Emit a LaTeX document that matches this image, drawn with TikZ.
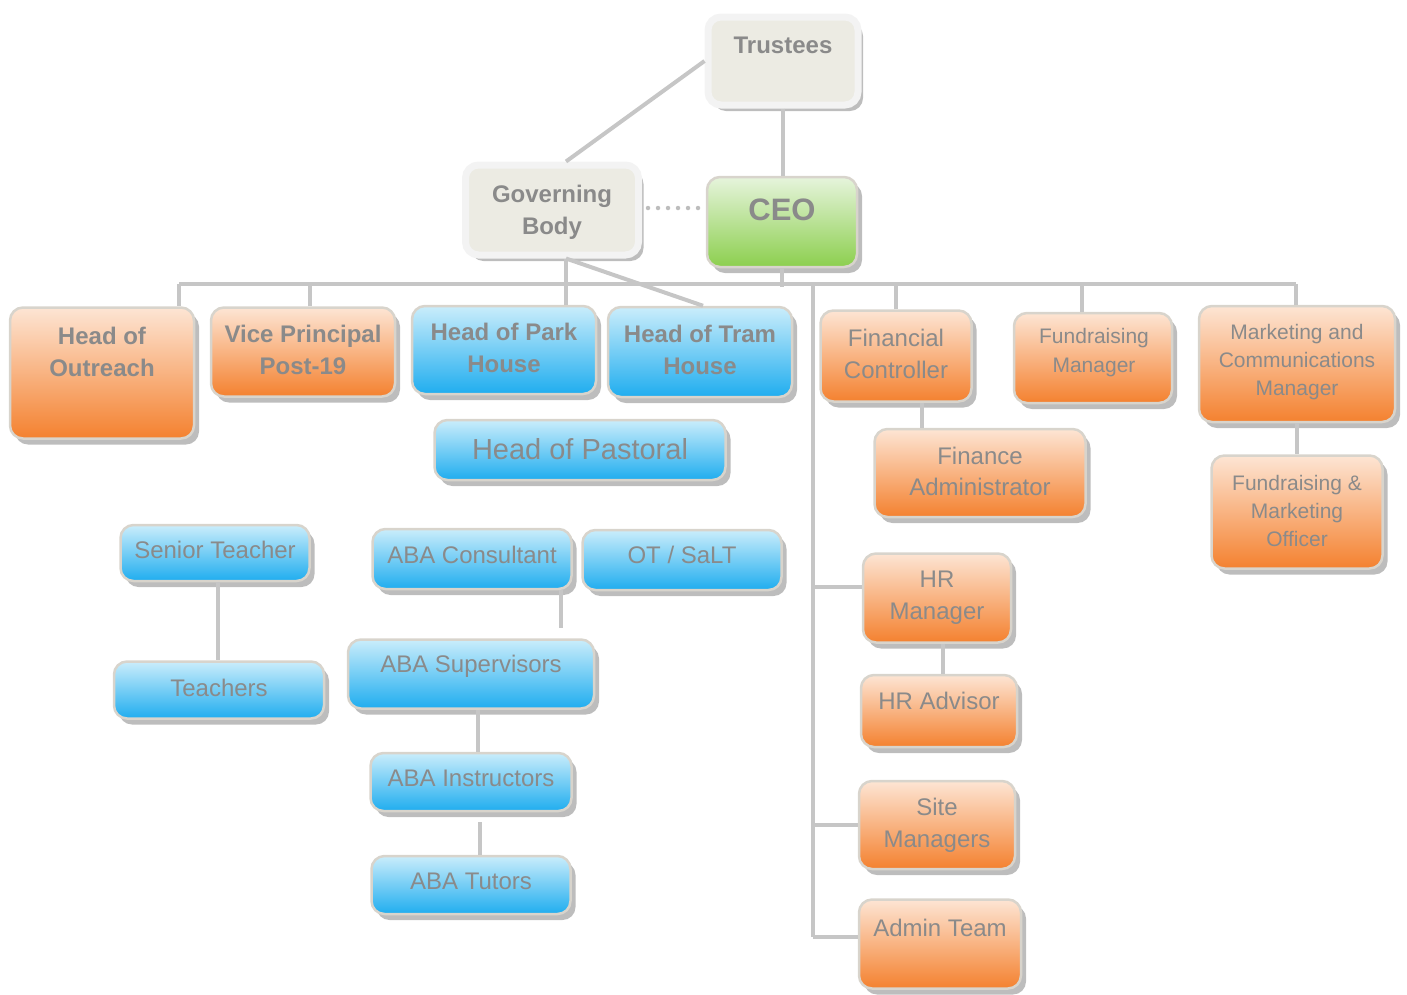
\documentclass[tikz,border=0pt]{standalone}
\usepackage{fontspec}
\setmainfont{Liberation Sans}
\usetikzlibrary{shadows}

\definecolor{txtc}{HTML}{8A8A8A}
\definecolor{linec}{HTML}{C6C6C6}
\definecolor{bordc}{HTML}{D8D4CC}
\definecolor{shadc}{HTML}{BDBDBD}
\definecolor{ortop}{HTML}{FDE5D4}
\definecolor{orbot}{HTML}{F4812F}
\definecolor{bltop}{HTML}{CAEDFB}
\definecolor{blbot}{HTML}{1FADEF}
\definecolor{grtop}{HTML}{E6F4DC}
\definecolor{grbot}{HTML}{8CCF4E}
\definecolor{beige}{HTML}{ECEBE3}
\definecolor{gbord}{HTML}{F3F3F3}

\begin{document}
\begin{tikzpicture}[x=1pt,y=-1pt,
  box/.style={rectangle,rounded corners=13pt,draw=bordc,line width=2.5pt,
    drop shadow={shadow xshift=5pt,shadow yshift=-6pt,fill=shadc,opacity=1}},
  obox/.style={box,top color=ortop,bottom color=orbot},
  bbox/.style={box,top color=bltop,bottom color=blbot},
  gbox/.style={box,top color=grtop,bottom color=grbot},
  tbox/.style={box,draw=gbord,line width=7pt,fill=beige},
  txt/.style={text=txtc,align=center,font=\fontsize{24}{32}\selectfont},
  stxt/.style={txt,font=\fontsize{21}{28}\selectfont},
  btxt/.style={txt,font=\bfseries\fontsize{24}{32}\selectfont}]
\useasboundingbox (0,0) rectangle (1407,994);

% top of the tree
\node[tbox,minimum width=150pt,minimum height=88pt] (trustees) at (783,61) {};
\node[btxt] (trustees-t) at (783,45) {Trustees};
\node[tbox,minimum width=173pt,minimum height=90pt] (gb) at (552,210) {};
\node[btxt] (gb-t) at (552,212) {Governing\\Body};
\node[gbox,minimum width=150pt,minimum height=90pt] (ceo) at (782,222) {};
\node[btxt,font=\bfseries\fontsize{31}{36}\selectfont] (ceo-t) at (782,210) {CEO};

% education side
\node[obox,minimum width=184pt,minimum height=131pt] (outreach) at (102,373) {};
\node[btxt] (outreach-t) at (102,352) {Head of\\Outreach};
\node[obox,minimum width=184pt,minimum height=89pt] (vp) at (303,352) {};
\node[btxt] (vp-t) at (303,350) {Vice Principal\\Post-19};
\node[bbox,minimum width=184pt,minimum height=88pt] (park) at (504,350) {};
\node[btxt] (park-t) at (504,348) {Head of Park\\House};
\node[bbox,minimum width=184pt,minimum height=90pt] (tram) at (700,352) {};
\node[btxt] (tram-t) at (700,350) {Head of Tram\\House};
\node[bbox,minimum width=291pt,minimum height=60pt] (pastoral) at (580,450) {};
\node[txt,font=\fontsize{29}{34}\selectfont] (pastoral-t) at (580,449) {Head of Pastoral};

\node[bbox,minimum width=189pt,minimum height=56pt] (st) at (215,553) {};
\node[txt] (st-t) at (215,550) {Senior Teacher};
\node[bbox,minimum width=210pt,minimum height=57pt] (tea) at (219,690) {};
\node[txt] (tea-t) at (219,688) {Teachers};

\node[bbox,minimum width=199pt,minimum height=60pt] (abac) at (472,559) {};
\node[txt] (abac-t) at (472,555) {ABA Consultant};
\node[bbox,minimum width=199pt,minimum height=60pt] (ot) at (682,560) {};
\node[txt] (ot-t) at (682,555) {OT / SaLT};
\node[bbox,minimum width=246pt,minimum height=69pt] (abas) at (471,674) {};
\node[txt] (abas-t) at (471,666) {ABA Supervisors};
\node[bbox,minimum width=201pt,minimum height=58pt] (abai) at (471,782) {};
\node[txt] (abai-t) at (471,778) {ABA Instructors};
\node[bbox,minimum width=199pt,minimum height=58pt] (abat) at (471,885) {};
\node[txt] (abat-t) at (471,881) {ABA Tutors};

% business side
\node[obox,minimum width=151pt,minimum height=91pt] (fc) at (896,356) {};
\node[txt] (fc-t) at (896,354) {Financial\\Controller};
\node[obox,minimum width=158pt,minimum height=90pt] (fm) at (1093,358) {};
\node[stxt,font=\fontsize{21}{29}\selectfont] (fm-t) at (1094,353) {Fundraising\\Manager};
\node[obox,minimum width=196pt,minimum height=116pt] (mkt) at (1297,364) {};
\node[stxt] (mkt-t) at (1297,362) {Marketing and\\Communications\\Manager};
\node[obox,minimum width=211pt,minimum height=88pt] (fa) at (980,473) {};
\node[txt,font=\fontsize{24}{31}\selectfont] (fa-t) at (980,471) {Finance\\Administrator};
\node[obox,minimum width=171pt,minimum height=113pt] (fmo) at (1297,512) {};
\node[stxt] (fmo-t) at (1297,511) {Fundraising \&\\Marketing\\Officer};

\node[obox,minimum width=148pt,minimum height=89pt] (hrm) at (937,598) {};
\node[txt] (hrm-t) at (937,598) {HR\\Manager};
\node[obox,minimum width=156pt,minimum height=72pt] (hra) at (939,711) {};
\node[txt] (hra-t) at (939,701) {HR Advisor};
\node[obox,minimum width=156pt,minimum height=88pt] (site) at (937,825) {};
\node[txt] (site-t) at (937,825) {Site\\Managers};
\node[obox,minimum width=162pt,minimum height=89pt] (admin) at (940,944) {};
\node[txt] (admin-t) at (940,928) {Admin Team};

% connectors
\coordinate (busL) at (179,284);
\coordinate (busR) at (1296,284);
\coordinate (trunkT) at (813,284);
\coordinate (trunkB) at (813,937);
\coordinate (abaEnd) at (561,628);
\coordinate (tutTop) at (480,822);
\begin{scope}[line width=4pt,draw=linec]
\draw (trustees.west) -- ([xshift=14pt]gb.north);
\draw (trustees.south) -- (trustees.south |- ceo.north);
\draw[line width=4.5pt,line cap=round,dash pattern=on 0pt off 10pt,draw=shadc] ([xshift=6pt,yshift=2pt]gb.east) -- ([xshift=-4pt,yshift=2pt]gb.east -| ceo.west);
\draw (busL) -- (busR);
\draw (busL) -- (busL |- outreach.north);
\draw ([xshift=7pt]vp.north) -- ([xshift=7pt]vp.north |- busL);
\draw ([xshift=14pt]gb.south) -- ([xshift=14pt]gb.south |- park.north);
\draw ([xshift=14pt]gb.south) -- ([xshift=3pt]tram.north);
\draw (ceo.south) -- ([yshift=-3pt]ceo.south |- busL);
\draw (fc.north) -- (fc.north |- busL);
\draw ([xshift=-11pt]fm.north) -- ([xshift=-11pt]fm.north |- busL);
\draw (busR) -- (busR |- mkt.north);
\draw (trunkT) -- (trunkB);
\draw ([yshift=11pt]trunkT |- hrm.west) -- ([yshift=11pt]hrm.west);
\draw (trunkT |- site) -- (site.west);
\draw (trunkB) -- (trunkB -| admin.west);
\draw ([xshift=26pt]fc.south) -- ([xshift=26pt]fc.south |- fa.north);
\draw (mkt.south) -- (mkt.south |- fmo.north);
\draw ([xshift=6pt]hrm.south) -- ([xshift=6pt]hrm.south |- hra.north);
\draw ([xshift=3pt]st.south) -- ([xshift=3pt]st.south |- tea.north);
\draw (abaEnd |- abac.south) -- (abaEnd);
\draw ([xshift=7pt]abas.south) -- ([xshift=7pt]abas.south |- abai.north);
\draw (tutTop) -- (tutTop |- abat.north);
\end{scope}
\end{tikzpicture}
\end{document}
